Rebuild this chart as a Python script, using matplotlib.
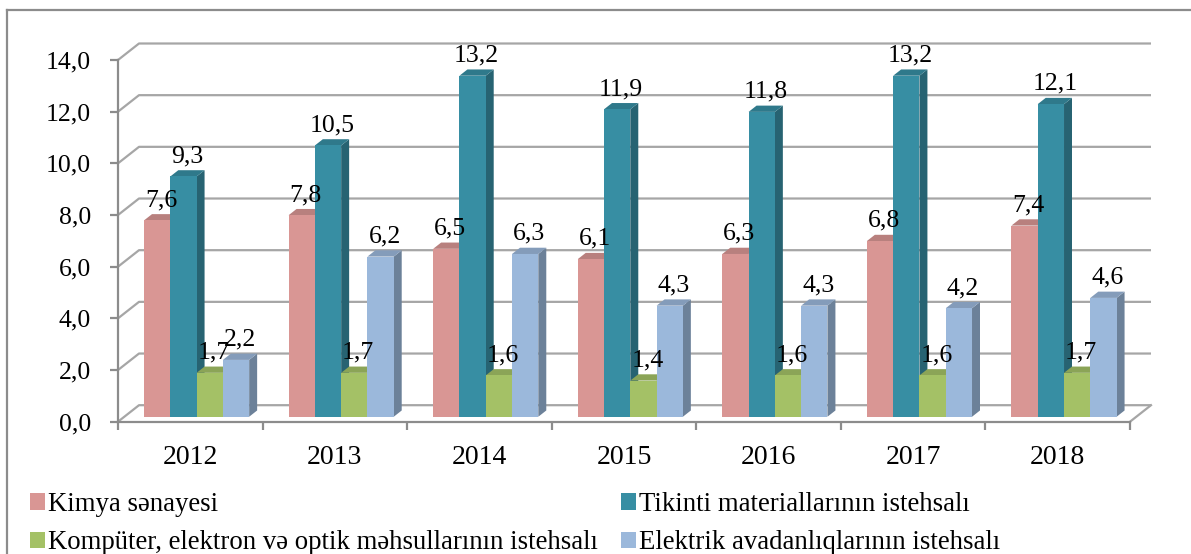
import matplotlib.pyplot as plt
from matplotlib.patches import Patch
from matplotlib.lines import Line2D
import matplotlib.colors as mcolors

plt.rcParams['font.family'] = ['Liberation Serif', 'DejaVu Serif']

years = ["2012", "2013", "2014", "2015", "2016", "2017", "2018"]
series_names = [
    "Kimya sənayesi",
    "Tikinti materiallarının istehsalı",
    "Kompüter, elektron və optik məhsullarının istehsalı",
    "Elektrik avadanlıqlarının istehsalı",
]
kimya = [7.6, 7.8, 6.5, 6.1, 6.3, 6.8, 7.4]
tikinti = [9.3, 10.5, 13.2, 11.9, 11.8, 13.2, 12.1]
komputer = [1.7, 1.7, 1.6, 1.4, 1.6, 1.6, 1.7]
elektrik = [2.2, 6.2, 6.3, 4.3, 4.3, 4.2, 4.6]
yticks = [0, 2, 4, 6, 8, 10, 12, 14]

values = [kimya, tikinti, komputer, elektrik]
colors = ['#D99694', '#378EA3', '#A4C166', '#9BB8DB']

W, H = 1191, 554
fig = plt.figure(figsize=(W / 100, H / 100), dpi=100)
ax = fig.add_axes([118 / W, (H - 421.7) / H, (1130 - 118) / W, (421.7 - 60) / H])
ax.set_xlim(0, 7)
ax.set_ylim(0, 14)

# depth offset of the 3D box, in data units
DX = 21 / (1012 / 7)
DY = 16.5 / (361.7 / 14)


def proj(x, y, d):
    return x + d * DX, y + d * DY


def shade(c, f):
    r, g, b = mcolors.to_rgb(c)
    return (r * f, g * f, b * f)


grid_c = '#a6a6a6'
# back wall + side wall gridlines
for v in yticks:
    ax.plot([0, DX, 7 + DX], [v, v + DY, v + DY], color=grid_c, lw=1.6,
            clip_on=False, zorder=1, solid_capstyle='butt')
# floor right edge
ax.plot([7, 7 + DX], [0, DY], color=grid_c, lw=1.6, clip_on=False, zorder=1)

# bars
gap = 0.75
w = 1 / (4 + 2 * gap)
d0, d1 = 0.30, 0.68
for i in range(len(years)):
    for j, vals in enumerate(values):
        v = vals[i]
        x0 = i + gap * w + j * w
        x1 = x0 + w
        c = colors[j]
        front = [proj(x0, 0, d0), proj(x1, 0, d0), proj(x1, v, d0), proj(x0, v, d0)]
        side = [proj(x1, 0, d0), proj(x1, 0, d1), proj(x1, v, d1), proj(x1, v, d0)]
        top = [proj(x0, v, d0), proj(x1, v, d0), proj(x1, v, d1), proj(x0, v, d1)]
        z = 3 + i * 4 + j
        ax.fill(*zip(*side), color=shade(c, 0.70), lw=0, clip_on=False, zorder=z)
        ax.fill(*zip(*top), color=shade(c, 0.85), lw=0, clip_on=False, zorder=z)
        ax.fill(*zip(*front), color=c, lw=0, clip_on=False, zorder=z)
        lx, ly = proj((x0 + x1) / 2, v, (d0 + d1) / 2)
        ax.annotate(f"{v:.1f}".replace('.', ','), xy=(lx, ly), xytext=(0, 8),
                    textcoords='offset points', ha='center', va='baseline',
                    fontsize=18.5, zorder=100, annotation_clip=False)

for s in ['top', 'right']:
    ax.spines[s].set_visible(False)
for s in ['left', 'bottom']:
    ax.spines[s].set_color('#8c8c8c')
    ax.spines[s].set_linewidth(1.6)
    ax.spines[s].set_zorder(2)

ax.set_yticks(yticks)
ax.set_yticklabels([f"{t:.1f}".replace('.', ',') for t in yticks])
ax.tick_params(axis='y', direction='out', length=6, width=1.6, color='#8c8c8c',
               pad=13.5, labelsize=18.5)
ax.set_xticks(range(8))
ax.set_xticklabels([])
ax.tick_params(axis='x', which='major', direction='out', length=6, width=1.6,
               color='#8c8c8c')
ax.set_xticks([i + 0.5 for i in range(7)], minor=True)
ax.set_xticklabels(years, minor=True)
ax.tick_params(axis='x', which='minor', length=0, pad=16.5, labelsize=20)

handles = [Patch(facecolor=colors[k], edgecolor='none') for k in [0, 2, 1, 3]]
labels = [series_names[k] for k in [0, 2, 1, 3]]
fig.legend(handles, labels, ncol=2, loc='upper left',
           bbox_to_anchor=(30 / W, (H - 492) / H), frameon=False, fontsize=19.3,
           handlelength=0.55, handleheight=0.55, handletextpad=0.12,
           columnspacing=0.88, labelspacing=0.5, borderpad=0, borderaxespad=0)

# outer chart border (right and bottom fall outside the image)
fig.add_artist(Line2D([7 / W, 7 / W], [0, (H - 10) / H], color='#8c8c8c', lw=1.6))
fig.add_artist(Line2D([7 / W, 1], [(H - 10) / H, (H - 10) / H], color='#8c8c8c', lw=1.6))

fig.savefig("out.png", dpi=100)
